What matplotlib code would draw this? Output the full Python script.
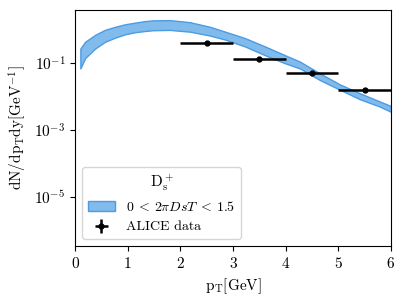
import matplotlib
matplotlib.use("Agg")
import matplotlib.pyplot as plt

plt.rcParams["font.family"] = "serif"
plt.rcParams["font.serif"] = ["cmr10", "DejaVu Serif"]
plt.rcParams["mathtext.fontset"] = "cm"
plt.rcParams["axes.formatter.use_mathtext"] = True
plt.rcParams["axes.unicode_minus"] = False

# band (model, 0 < 2 pi D_s T < 1.5)
band_pt = [0.1, 0.19, 0.38, 0.57, 0.76, 0.95, 1.14, 1.33, 1.48, 1.8,
           2.18, 2.56, 2.85, 3.23, 3.61, 3.99, 4.27, 4.65, 5.03, 5.41, 5.79, 6.0]
band_hi = [0.27, 0.43, 0.69, 0.98, 1.2, 1.43, 1.6, 1.78, 1.87, 1.9,
           1.65, 1.2, 0.86, 0.55, 0.31, 0.17, 0.11, 0.049, 0.023, 0.0125, 0.0071, 0.0052]
band_lo = [0.069, 0.14, 0.27, 0.43, 0.57, 0.72, 0.83, 0.9, 0.95, 0.97,
           0.86, 0.66, 0.5, 0.31, 0.17, 0.098, 0.069, 0.031, 0.016, 0.0083, 0.005, 0.0035]

# ALICE data
data_pt = [2.5, 3.5, 4.5, 5.5]
data_y = [0.40, 0.135, 0.049, 0.0155]
data_xerr = [0.5, 0.5, 0.5, 0.5]
data_yerr = [0.05, 0.016, 0.006, 0.002]

fig = plt.figure(figsize=(4.06, 3.04), dpi=100)
ax = fig.add_axes([0.185, 0.191, 0.778, 0.776])

ax.fill_between(band_pt, band_lo, band_hi, facecolor="#80bbec",
                edgecolor="#4c9be3", linewidth=1.0,
                label=r"$0\:<\:2\pi DsT\:<\:1.5$")
ax.errorbar(data_pt, data_y, xerr=data_xerr, yerr=data_yerr, fmt="o",
            color="black", markersize=3.5, elinewidth=1.8, capsize=0,
            label="ALICE data")

ax.set_yscale("log")
ax.set_xlim(0, 6)
ax.set_ylim(3.5e-7, 3.8)
ax.set_yticks([1e-5, 1e-3, 1e-1])
ax.minorticks_off()
ax.tick_params(labelsize=11)
ax.set_xlabel(r"$\mathrm{p_T[GeV]}$", fontsize=11)
ax.set_ylabel(r"$\mathrm{dN/dp_Tdy[GeV^{-1}]}$", fontsize=11)

leg = ax.legend(loc="lower left", title=r"$\mathrm{D_s^+}$", fontsize=10,
                title_fontsize=11)

fig.savefig("out.png", dpi=100)
